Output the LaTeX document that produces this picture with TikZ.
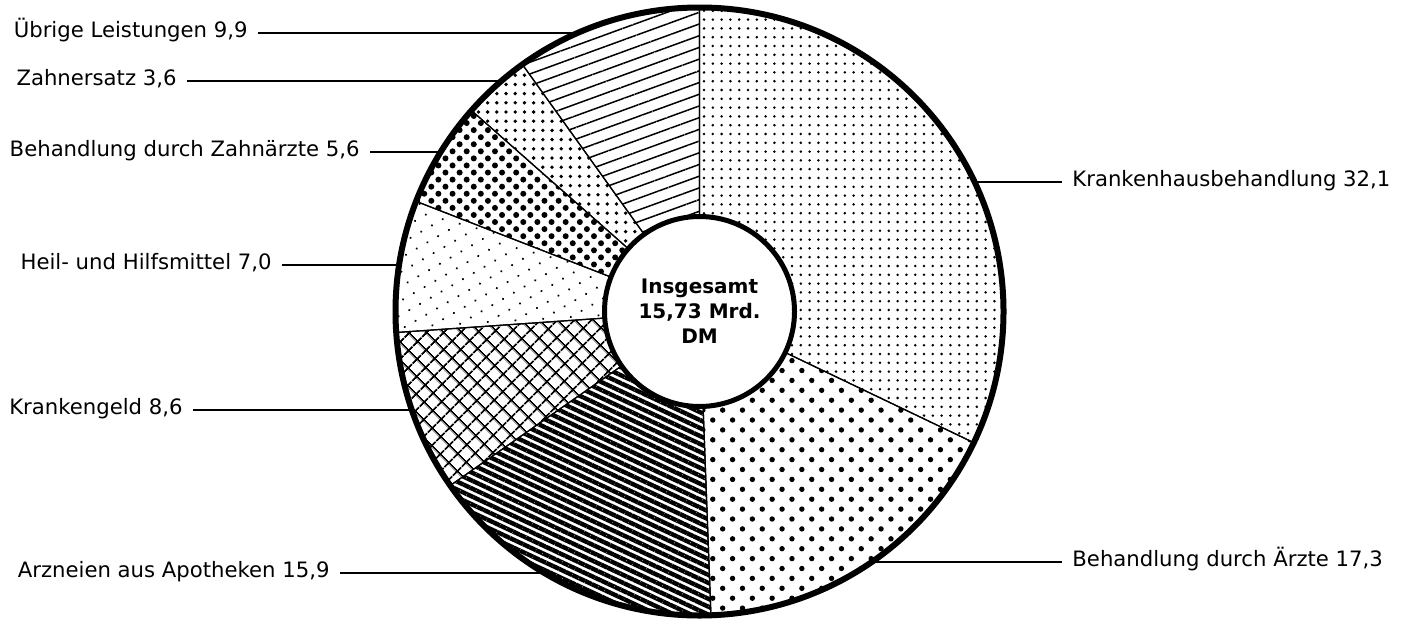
\documentclass[tikz,border=0pt]{standalone}
\usepackage{fontspec}
\setmainfont{DejaVu Sans}
\usepackage{tikz}
\usetikzlibrary{calc}
\usetikzlibrary{patterns.meta}

\tikzset{
  slice/.style={draw=black, line width=0.6pt},
  lbl/.style={font=\fontsize{10.6}{12}\selectfont, inner xsep=5pt, inner ysep=0pt,
    text height=6.4pt, text depth=2.1pt},
  leader/.style={line width=0.75pt},
  pKrankenhaus/.style={pattern={Dots[radius=0.7pt, distance=4.4pt]}},
  pAerzte/.style={pattern={Dots[radius=1.35pt, distance=7pt, angle=45]}},
  pArzneien/.style={pattern={Lines[angle=-25, distance=3.6pt, line width=2.2pt]}},
  pKrankengeld/.style={pattern={Hatch[angle=45, distance=6.5pt, line width=1.1pt]}},
  pHeil/.style={pattern={Dots[radius=0.6pt, distance=6.2pt, angle=30]}},
  pZahnaerzte/.style={pattern={Dots[radius=1.5pt, distance=5pt, angle=45]}},
  pZahnersatz/.style={pattern={Dots[radius=0.95pt, distance=4.6pt]}},
  pUebrige/.style={pattern={Lines[angle=20, distance=5.5pt, line width=0.75pt]}}
}

\begin{document}
\begin{tikzpicture}[x=0.5pt, y=0.5pt]
  \useasboundingbox (0,0) rectangle (1406,618);

  \coordinate (c) at (699.5,306.5);

  \begin{scope}[shift={(699.5,306.5)}]
    \draw[slice, pKrankenhaus] (90:95) arc[start angle=90, end angle=-25.56, radius=95]
      -- (-25.56:304) arc[start angle=-25.56, end angle=90, radius=304] -- cycle;
    \draw[slice, pAerzte] (-25.56:95) arc[start angle=-25.56, end angle=-87.84, radius=95]
      -- (-87.84:304) arc[start angle=-87.84, end angle=-25.56, radius=304] -- cycle;
    \draw[slice, pArzneien] (-87.84:95) arc[start angle=-87.84, end angle=-145.08, radius=95]
      -- (-145.08:304) arc[start angle=-145.08, end angle=-87.84, radius=304] -- cycle;
    \draw[slice, pKrankengeld] (-145.08:95) arc[start angle=-145.08, end angle=-176.04, radius=95]
      -- (-176.04:304) arc[start angle=-176.04, end angle=-145.08, radius=304] -- cycle;
    \draw[slice, pHeil] (-176.04:95) arc[start angle=-176.04, end angle=-201.24, radius=95]
      -- (-201.24:304) arc[start angle=-201.24, end angle=-176.04, radius=304] -- cycle;
    \draw[slice, pZahnaerzte] (-201.24:95) arc[start angle=-201.24, end angle=-221.4, radius=95]
      -- (-221.4:304) arc[start angle=-221.4, end angle=-201.24, radius=304] -- cycle;
    \draw[slice, pZahnersatz] (-221.4:95) arc[start angle=-221.4, end angle=-234.36, radius=95]
      -- (-234.36:304) arc[start angle=-234.36, end angle=-221.4, radius=304] -- cycle;
    \draw[slice, pUebrige] (-234.36:95) arc[start angle=-234.36, end angle=-270, radius=95]
      -- (-270:304) arc[start angle=-270, end angle=-234.36, radius=304] -- cycle;
  \end{scope}

  \draw[line width=3pt] (c) circle (304);
  \draw[line width=2.5pt, fill=white] (c) circle (95);

  \node[font=\bfseries\fontsize{10}{12.5}\selectfont, align=center] (total) at (c)
    {Insgesamt\\15,73 Mrd.\\DM};

  \node[lbl, anchor=east] (lUebrige) at (258,585) {Übrige Leistungen 9,9};
  \node[lbl, anchor=east] (lZahnersatz) at (187,537) {Zahnersatz 3,6};
  \node[lbl, anchor=east] (lZahnaerzte) at (370,466) {Behandlung durch Zahnärzte 5,6};
  \node[lbl, anchor=east] (lHeil) at (282,353) {Heil- und Hilfsmittel 7,0};
  \node[lbl, anchor=east] (lKrankengeld) at (193,208) {Krankengeld 8,6};
  \node[lbl, anchor=east] (lArzneien) at (340,45) {Arzneien aus Apotheken 15,9};
  \node[lbl, anchor=west] (lKrankenhaus) at (1062,436) {Krankenhausbehandlung 32,1};
  \node[lbl, anchor=west] (lAerzte) at (1062,56) {Behandlung durch Ärzte 17,3};

  \coordinate (eUebrige) at (577.6,585);
  \coordinate (eZahnersatz) at (501.3,537);
  \coordinate (eZahnaerzte) at (440.7,466);
  \coordinate (eHeil) at (399.1,353);
  \coordinate (eKrankengeld) at (411.9,208);
  \coordinate (eArzneien) at (544.5,45);
  \coordinate (eKrankenhaus) at (974.5,436);
  \coordinate (eAerzte) at (871.7,56);

  \draw[leader] (lUebrige.east) -- (eUebrige);
  \draw[leader] (lZahnersatz.east) -- (eZahnersatz);
  \draw[leader] (lZahnaerzte.east) -- (eZahnaerzte);
  \draw[leader] (lHeil.east) -- (eHeil);
  \draw[leader] (lKrankengeld.east) -- (eKrankengeld);
  \draw[leader] (lArzneien.east) -- (eArzneien);
  \draw[leader] (eKrankenhaus) -- (lKrankenhaus.west);
  \draw[leader] (eAerzte) -- (lAerzte.west);

\end{tikzpicture}
\end{document}
